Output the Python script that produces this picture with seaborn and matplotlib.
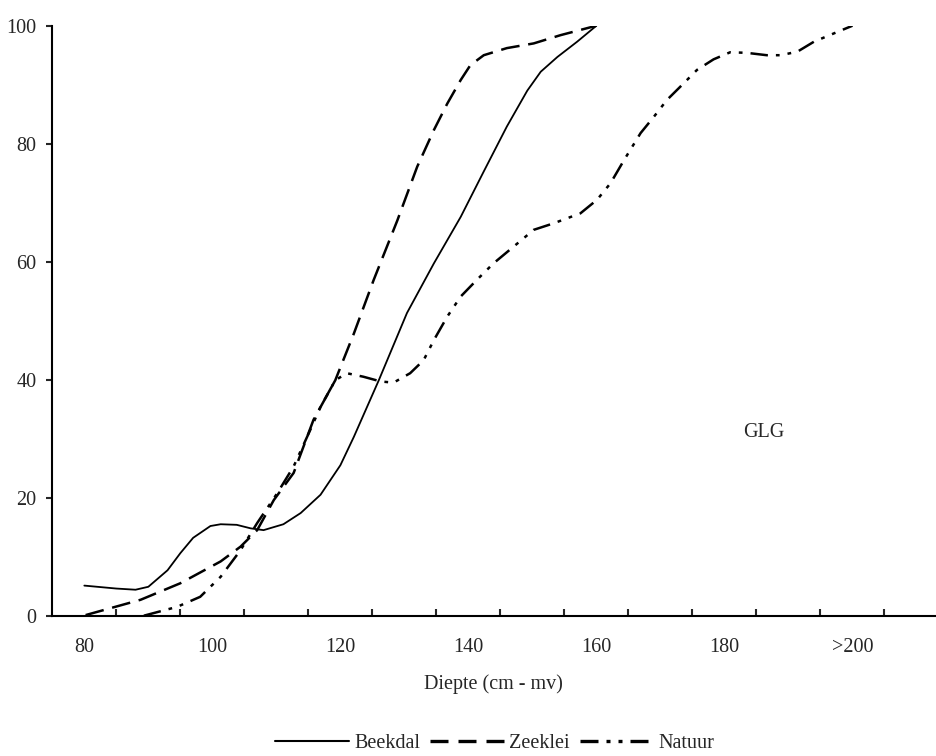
import numpy as np
import pandas as pd
import matplotlib
matplotlib.use("Agg")
import matplotlib.pyplot as plt
from matplotlib.lines import Line2D
import seaborn as sns

# cumulatief percentage per diepte (cm - mv)
beekdal_x = [80, 85, 88, 90, 93, 95, 97, 99.7, 101.3, 103.8, 106, 108, 111.1, 113.8,
             116.9, 120, 122.1, 126, 130.4, 134.6, 138.8, 142.4, 146, 149.2, 151.3,
             153.9, 157, 160]
beekdal_y = [5.1, 4.6, 4.4, 4.9, 7.7, 10.6, 13.2, 15.2, 15.5, 15.4, 14.8, 14.5, 15.5, 17.4,
             20.5, 25.5, 30.3, 39.9, 51.3, 59.7, 67.6, 75.3, 82.9, 89.0, 92.2,
             94.7, 97.3, 100]

zeeklei_x = [80.2, 88.8, 95, 101.3, 104.4, 107, 109.6, 112.7, 115.8, 119.2, 122.1, 125.2,
             128.9, 132, 134.6, 136.7, 138.8, 140.3, 142.4, 146, 150.2, 154.4, 160]
zeeklei_y = [0.1, 2.7, 5.5, 9.2, 11.7, 14.5, 19.6, 24.2, 33.2, 39.9, 47.8, 56.9,
             67, 76.1, 82.3, 86.8, 90.8, 93.3, 95, 96.2, 97, 98.4, 100]

natuur_x = [89.3, 94.5, 98.1, 101.3, 104.4, 107, 110.1, 112.7, 115.3, 116.9, 119.2, 121,
            123.6, 126.3, 128.3, 130.9, 133, 134.6, 136.7, 138.8, 141.3, 143.9, 147,
            150.2, 153.3, 157.5, 160.1, 162.2, 164.3, 166.9, 169, 171, 173.6, 175.7,
            178.3, 180.9, 183.5, 186.6, 188.8, 191.4, 194, 197.1, 200]
natuur_y = [0, 1.5, 3.2, 6.6, 11.1, 15.7, 20.7, 25.3, 31.5, 35.4, 39.9, 41.1,
            40.5, 39.7, 39.5, 41.1, 43.3, 46.7, 50.7, 54.1, 56.9, 59.7, 62.5,
            65.4, 66.5, 68.2, 70.5, 73.3, 77.2, 81.8, 84.6, 87.4, 90.2, 92.5,
            94.3, 95.5, 95.4, 95.0, 95.0, 95.6, 97.3, 98.7, 100]

series = ["Beekdal", "Zeeklei", "Natuur"]
xlabel_pos = [80, 100, 120, 140, 160, 180, 200]
xlabel_txt = ["80", "100", "120", "140", "160", "180", ">200"]
yticks = [0, 20, 40, 60, 80, 100]

df = pd.concat([
    pd.DataFrame({"diepte": beekdal_x, "pct": beekdal_y, "type": "Beekdal"}),
    pd.DataFrame({"diepte": zeeklei_x, "pct": zeeklei_y, "type": "Zeeklei"}),
    pd.DataFrame({"diepte": natuur_x, "pct": natuur_y, "type": "Natuur"}),
], ignore_index=True)

sns.set_style("white")
plt.rcParams["font.family"] = ["Liberation Serif", "DejaVu Serif"]
fs = 14.5

dash_map = {"Beekdal": "", "Zeeklei": (7.5, 3.5), "Natuur": (7, 3.2, 1.5, 3.2, 1.5, 3.2)}

fig, ax = plt.subplots(figsize=(9.36, 7.56), dpi=100)
fig.subplots_adjust(left=0.0559, right=0.999, bottom=0.1856, top=0.966)

sns.lineplot(data=df, x="diepte", y="pct", style="type", dashes=dash_map,
             style_order=series, color="black", lw=1.5, estimator=None,
             sort=False, legend=False, ax=ax)
# doorgetrokken lijn dunner, gestippelde lijnen dikker
for line in ax.lines:
    if line.get_linestyle() == "-":
        line.set_linewidth(1.3)
    else:
        line.set_linewidth(1.8)

ax.set_xlim(75, 212.9)
ax.set_ylim(0, 100)
sns.despine(ax=ax)
for side in ["left", "bottom"]:
    ax.spines[side].set_color("black")
    ax.spines[side].set_linewidth(1.5)

ax.set_yticks(yticks)
ax.set_yticklabels([str(v) for v in yticks], fontsize=fs)
ax.tick_params(axis="y", direction="out", length=4.5, width=1.5, pad=7, left=True)

ax.set_xticks(np.arange(85, 210, 10))
ax.set_xticklabels([])
ax.set_xticks(xlabel_pos, minor=True)
ax.set_xticklabels(xlabel_txt, minor=True, fontsize=fs)
ax.tick_params(axis="x", which="major", direction="in", length=5, width=1.5, bottom=True)
ax.tick_params(axis="x", which="minor", length=0, pad=16, bottom=True)

ax.set_xlabel("Diepte (cm - mv)", fontsize=fs)
ax.xaxis.set_label_coords(0.5, -0.10)
ax.set_ylabel("")

ax.text(186.1, 31.0, "GLG", ha="center", va="center", fontsize=fs)

handles = [
    Line2D([], [], color="black", lw=1.5),
    Line2D([], [], color="black", lw=2.4, dashes=(5.4, 3)),
    Line2D([], [], color="black", lw=2.4, dashes=(5.4, 2.4, 1.2, 2.4, 1.2, 2.4)),
]
fig.legend(handles, series, loc="center", bbox_to_anchor=(495 / 936, 1 - 743 / 756),
           ncol=3, frameon=False, handlelength=3.67, handletextpad=0.25,
           columnspacing=0.5, fontsize=fs)

fig.savefig("out.png", dpi=100)
